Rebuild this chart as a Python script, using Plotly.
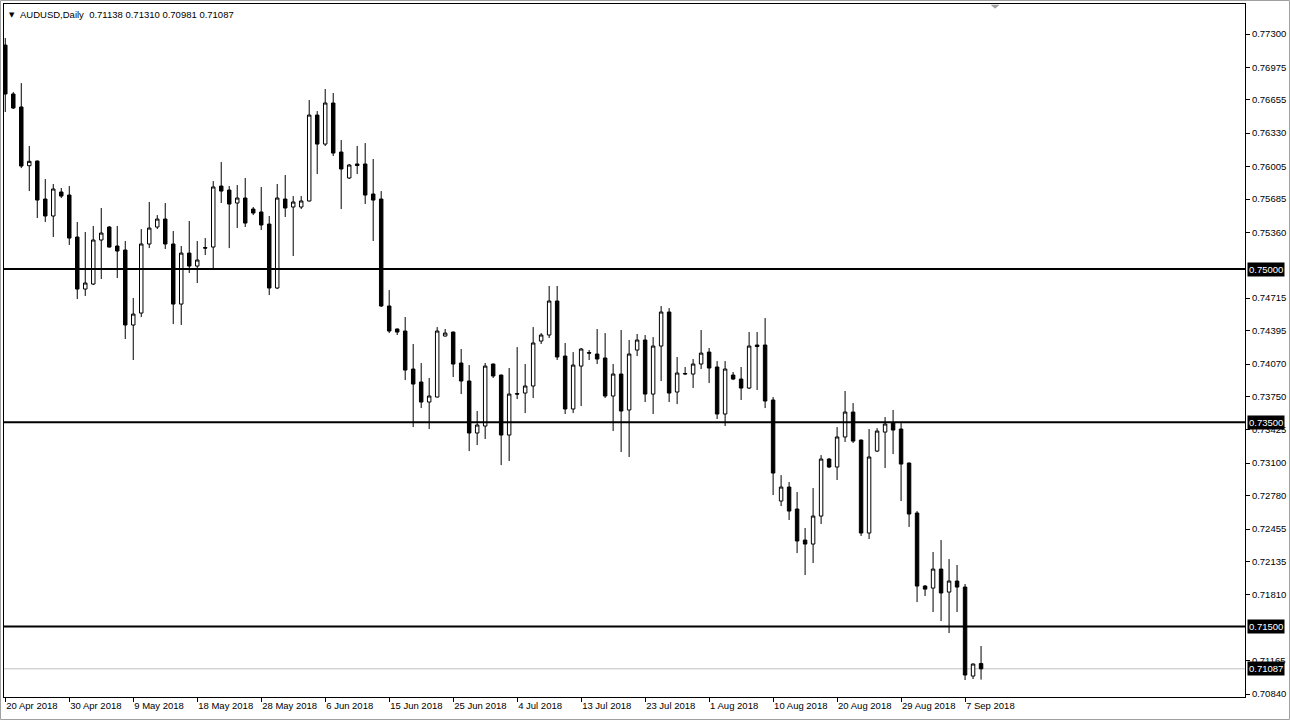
import pandas as pd
import plotly.graph_objects as go

# ---- data (AUDUSD daily) ----
symbol = "AUDUSD,Daily"
dates = [d.strftime("%Y-%m-%d") for d in
         pd.bdate_range("2018-04-20", periods=123, freq="C", weekmask="Sun Mon Tue Wed Thu Fri")]

opens = [0.77192, 0.76713, 0.76586, 0.76011, 0.76057, 0.75685, 0.75519, 0.75754, 0.75724, 0.75313,
         0.74804, 0.74853, 0.75284, 0.75411, 0.75225, 0.75186, 0.74452, 0.74569, 0.75245, 0.75411,
         0.75489, 0.75245, 0.74657, 0.75156, 0.75029, 0.75210, 0.75215, 0.75812, 0.75773, 0.75646,
         0.75695, 0.75587, 0.75558, 0.75440, 0.74814, 0.75685, 0.75607, 0.75607, 0.75666, 0.76507,
         0.76223, 0.76625, 0.76145, 0.75891, 0.76028, 0.76028, 0.75734, 0.75685, 0.74638, 0.74413,
         0.74393, 0.74021, 0.73894, 0.73698, 0.73747, 0.74344, 0.74383, 0.74080, 0.73904, 0.73395,
         0.73463, 0.74070, 0.73962, 0.73375, 0.73781, 0.73786, 0.73855, 0.74295, 0.74354, 0.74687,
         0.74148, 0.73630, 0.74050, 0.74182, 0.74168, 0.74129, 0.73757, 0.73972, 0.73620, 0.74207,
         0.74305, 0.73776, 0.74246, 0.74579, 0.73796, 0.73972, 0.73972, 0.74070, 0.74187, 0.74041,
         0.73581, 0.73962, 0.73923, 0.73835, 0.74256, 0.74256, 0.73718, 0.72729, 0.72866, 0.72651,
         0.72347, 0.72308, 0.72582, 0.73140, 0.73062, 0.73356, 0.73600, 0.73326, 0.72416, 0.73218,
         0.73404, 0.73492, 0.73434, 0.73101, 0.72612, 0.71897, 0.71877, 0.72063, 0.71838, 0.71946,
         0.71887, 0.71016, 0.71138]
highs = [0.77261, 0.76732, 0.76820, 0.76204, 0.76062, 0.75881, 0.75832, 0.75793, 0.75812, 0.75460,
         0.75362, 0.75421, 0.75597, 0.75421, 0.75421, 0.75274, 0.74716, 0.75391, 0.75656, 0.75528,
         0.75646, 0.75372, 0.75225, 0.75470, 0.75274, 0.75303, 0.75861, 0.76047, 0.75812, 0.75822,
         0.75891, 0.75607, 0.75803, 0.75519, 0.75832, 0.75920, 0.75714, 0.75714, 0.76654, 0.76546,
         0.76762, 0.76723, 0.76263, 0.76028, 0.76204, 0.76233, 0.76077, 0.75763, 0.74794, 0.74418,
         0.74530, 0.74266, 0.74080, 0.73933, 0.74432, 0.74413, 0.74388, 0.74217, 0.74060, 0.73610,
         0.74080, 0.74075, 0.73967, 0.74031, 0.74236, 0.74070, 0.74432, 0.74373, 0.74834, 0.74834,
         0.74276, 0.74187, 0.74227, 0.74207, 0.74413, 0.74373, 0.74070, 0.74403, 0.74305, 0.74364,
         0.74354, 0.74334, 0.74638, 0.74618, 0.74139, 0.74041, 0.74119, 0.74403, 0.74227, 0.74099,
         0.74099, 0.73992, 0.74041, 0.74383, 0.74383, 0.74520, 0.73747, 0.72983, 0.72915, 0.72817,
         0.72465, 0.72856, 0.73179, 0.73150, 0.73453, 0.73806, 0.73688, 0.73331, 0.73434, 0.73443,
         0.73551, 0.73620, 0.73492, 0.73106, 0.72631, 0.71907, 0.72230, 0.72347, 0.72161, 0.72103,
         0.71917, 0.71138, 0.71310]
lows = [0.76537, 0.76566, 0.75988, 0.75763, 0.75499, 0.75460, 0.75313, 0.75695, 0.75235, 0.74706,
        0.74736, 0.74843, 0.74902, 0.75210, 0.74912, 0.74315, 0.74109, 0.74530, 0.75205, 0.75391,
        0.75196, 0.74461, 0.74452, 0.74961, 0.74863, 0.75137, 0.75000, 0.75646, 0.75205, 0.75401,
        0.75411, 0.75528, 0.75382, 0.74745, 0.74804, 0.75509, 0.75127, 0.75587, 0.75660, 0.75930,
        0.76204, 0.76106, 0.75587, 0.75881, 0.75930, 0.75636, 0.75274, 0.74628, 0.74373, 0.74354,
        0.73913, 0.73453, 0.73639, 0.73434, 0.73742, 0.74340, 0.73943, 0.73776, 0.73218, 0.73277,
        0.73336, 0.73933, 0.73081, 0.73121, 0.73727, 0.73590, 0.73737, 0.74266, 0.74325, 0.74109,
        0.73581, 0.73590, 0.73659, 0.74109, 0.74070, 0.73737, 0.73414, 0.73209, 0.73160, 0.74148,
        0.73698, 0.73581, 0.73904, 0.73698, 0.73678, 0.73962, 0.73835, 0.74021, 0.73884, 0.73532,
        0.73463, 0.73913, 0.73718, 0.73825, 0.73816, 0.73639, 0.72788, 0.72680, 0.72543, 0.72220,
        0.72005, 0.72122, 0.72504, 0.73052, 0.72935, 0.73307, 0.73297, 0.72387, 0.72357, 0.73209,
        0.73052, 0.73189, 0.72729, 0.72475, 0.71740, 0.71799, 0.71643, 0.71554, 0.71437, 0.71643,
        0.70977, 0.70987, 0.70981]
closes = [0.76713, 0.76576, 0.76008, 0.76054, 0.75675, 0.75519, 0.75783, 0.75714, 0.75303, 0.74804,
          0.74863, 0.75284, 0.75352, 0.75215, 0.75176, 0.74452, 0.74559, 0.75245, 0.75401, 0.75489,
          0.75245, 0.74657, 0.75156, 0.75029, 0.75088, 0.75205, 0.75803, 0.75763, 0.75636, 0.75695,
          0.75450, 0.75548, 0.75431, 0.74814, 0.75695, 0.75597, 0.75656, 0.75666, 0.76507, 0.76223,
          0.76625, 0.76135, 0.75979, 0.76018, 0.76013, 0.75724, 0.75675, 0.74638, 0.74393, 0.74383,
          0.74011, 0.73874, 0.73698, 0.73757, 0.74393, 0.74373, 0.74070, 0.73904, 0.73395, 0.73473,
          0.74050, 0.73953, 0.73375, 0.73776, 0.73776, 0.73855, 0.74276, 0.74354, 0.74687, 0.74139,
          0.73630, 0.74060, 0.74217, 0.74177, 0.74119, 0.73757, 0.73972, 0.73610, 0.74168, 0.74305,
          0.73776, 0.74246, 0.74579, 0.73786, 0.73982, 0.73977, 0.74070, 0.74177, 0.74031, 0.73581,
          0.74021, 0.73923, 0.73835, 0.74246, 0.74241, 0.73708, 0.73003, 0.72866, 0.72631, 0.72338,
          0.72308, 0.72582, 0.73140, 0.73062, 0.73356, 0.73600, 0.73316, 0.72416, 0.73160, 0.73414,
          0.73483, 0.73424, 0.73091, 0.72602, 0.71897, 0.71867, 0.72063, 0.71829, 0.71946, 0.71887,
          0.71026, 0.71134, 0.71087]

level_lines = [0.75000, 0.73500, 0.71500]
current_price = 0.71087

x_tick_dates = ["2018-04-20", "2018-04-30", "2018-05-09", "2018-05-18", "2018-05-28", "2018-06-06",
                "2018-06-15", "2018-06-25", "2018-07-04", "2018-07-13", "2018-07-23", "2018-08-01",
                "2018-08-10", "2018-08-20", "2018-08-29", "2018-09-07"]
x_tick_labels = ["20 Apr 2018", "30 Apr 2018", "9 May 2018", "18 May 2018", "28 May 2018", "6 Jun 2018",
                 "15 Jun 2018", "25 Jun 2018", "4 Jul 2018", "13 Jul 2018", "23 Jul 2018", "1 Aug 2018",
                 "10 Aug 2018", "20 Aug 2018", "29 Aug 2018", "7 Sep 2018"]
y_tick_values = [0.77300, 0.76975, 0.76655, 0.76330, 0.76005, 0.75685, 0.75360, 0.74715,
                 0.74395, 0.74070, 0.73750, 0.73425, 0.73100, 0.72780, 0.72455, 0.72135, 0.71810,
                 0.71165, 0.70840]
y_range = [0.70811, 0.77594]

FONT = "Liberation Sans"

fig = go.Figure()
fig.add_trace(go.Candlestick(
    x=dates, open=opens, high=highs, low=lows, close=closes,
    increasing=dict(line=dict(color="black", width=1), fillcolor="white"),
    decreasing=dict(line=dict(color="black", width=1), fillcolor="black"),
    whiskerwidth=0, showlegend=False, hoverinfo="skip",
))

shapes = []
for lv in level_lines:
    shapes.append(dict(type="line", xref="paper", x0=0, x1=1, yref="y", y0=lv, y1=lv,
                       line=dict(color="black", width=2), layer="above"))
shapes.append(dict(type="line", xref="paper", x0=0, x1=1, yref="y", y0=current_price, y1=current_price,
                   line=dict(color="#C0C0C0", width=1), layer="below"))
# chart-shift marker
shapes.append(dict(type="path", xref="paper", yref="paper",
                   path="M 0.7950,0.9990 L 0.8022,0.9990 L 0.7986,0.9930 Z",
                   fillcolor="#A0A0A0", line=dict(width=0)))
# outer window frame
shapes.append(dict(type="rect", xref="paper", yref="paper",
                   x0=-3.5 / 1241, x1=1285.5 / 1241, y0=-22.5 / 693, y1=696.5 / 693,
                   line=dict(color="#A0A0A0", width=1), fillcolor="rgba(0,0,0,0)"))

annotations = []
for lv in level_lines + [current_price]:
    annotations.append(dict(xref="paper", yref="y", x=1, y=lv, xanchor="left", yanchor="middle",
                            xshift=2, text=f"{lv:.5f}", showarrow=False, bgcolor="black",
                            font=dict(family=FONT, size=9.5, color="white"), borderpad=1))
annotations.append(dict(xref="paper", yref="paper", x=0, y=1, xanchor="left", yanchor="top",
                        xshift=3, yshift=-5, text="▼", showarrow=False,
                        font=dict(family="DejaVu Sans", size=7, color="black")))
annotations.append(dict(xref="paper", yref="paper", x=0, y=1, xanchor="left", yanchor="top",
                        xshift=14, yshift=-3,
                        text=f"{symbol}  {opens[-1]:.5f} {highs[-1]:.5f} {lows[-1]:.5f} {closes[-1]:.5f}",
                        showarrow=False, font=dict(family=FONT, size=9.5, color="black")))

fig.update_layout(
    width=1290, height=720,
    margin=dict(l=4, r=45, t=4, b=23),
    paper_bgcolor="white", plot_bgcolor="white",
    boxgap=0.38,
    shapes=shapes, annotations=annotations,
    font=dict(family=FONT, size=9.5, color="black"),
    xaxis=dict(type="category", range=[-0.16, 155.0], rangeslider=dict(visible=False),
               tickmode="array", tickvals=x_tick_dates, ticktext=x_tick_labels,
               ticks="outside", ticklen=4, tickcolor="black", ticklabelposition="outside right",
               showgrid=False, zeroline=False, showline=True, linecolor="black", linewidth=1,
               mirror=True, tickfont=dict(family=FONT, size=9.5, color="black")),
    yaxis=dict(side="right", range=y_range, tickmode="array", tickvals=y_tick_values,
               ticktext=[f"{v:.5f}" for v in y_tick_values],
               ticks="outside", ticklen=4, tickcolor="black",
               showgrid=False, zeroline=False, showline=True, linecolor="black", linewidth=1,
               mirror=True, tickfont=dict(family=FONT, size=9.5, color="black")),
)

fig.write_html("out.html", config={"displayModeBar": False},
               post_script="document.body.style.margin='0';document.body.style.overflow='hidden';")
